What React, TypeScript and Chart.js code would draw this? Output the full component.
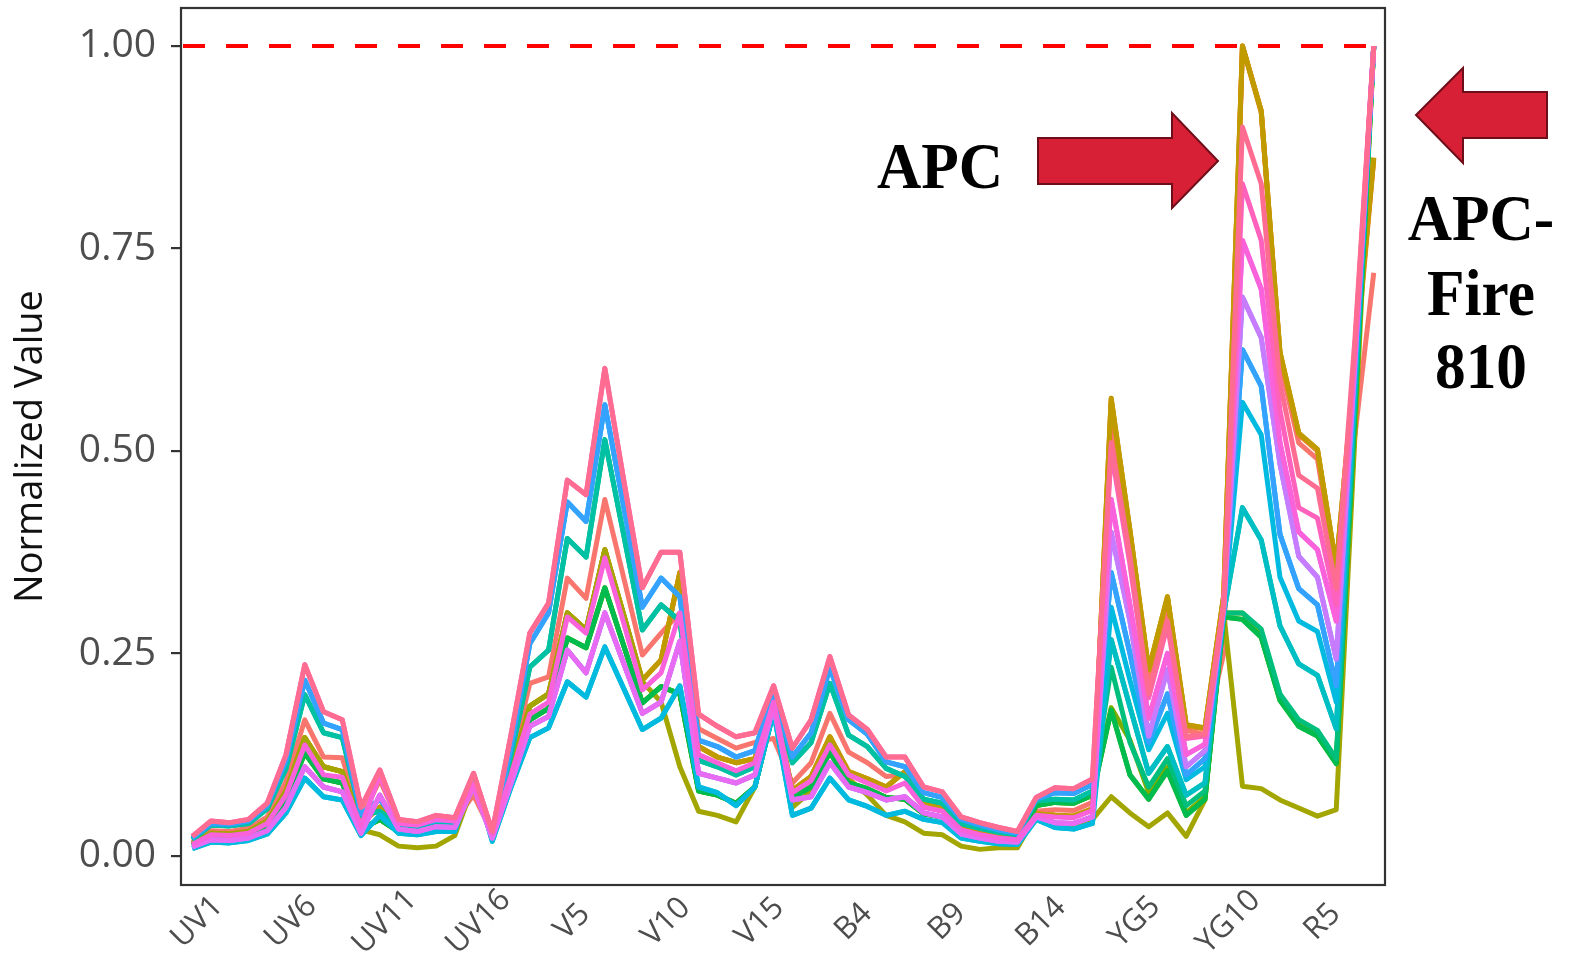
import React, { useEffect, useRef } from "react";
import { Chart, registerables } from "chart.js";

Chart.register(...registerables);

// ---------------- data ----------------
const CHANNELS = [
  "UV1", "UV2", "UV3", "UV4", "UV5", "UV6", "UV7", "UV8", "UV9", "UV10", "UV11", "UV12", "UV13", "UV14", "UV15", "UV16",
  "V1", "V2", "V3", "V4", "V5", "V6", "V7", "V8", "V9", "V10", "V11", "V12", "V13", "V14", "V15", "V16",
  "B1", "B2", "B3", "B4", "B5", "B6", "B7", "B8", "B9", "B10", "B11", "B12", "B13", "B14",
  "YG1", "YG2", "YG3", "YG4", "YG5", "YG6", "YG7", "YG8", "YG9", "YG10",
  "R1", "R2", "R3", "R4", "R5", "R6", "R7", "R8",
];

const X_TICK_LABELS = ["UV1", "UV6", "UV11", "UV16", "V5", "V10", "V15", "B4", "B9", "B14", "YG5", "YG10", "R5"];
const Y_TICKS = [0, 0.25, 0.5, 0.75, 1.0];
const Y_MIN = -0.036;
const Y_MAX = 1.047;
const REF_LINE = 1.0;

// UV1..YG3 (49 channels) – spectral shapes of the emission levels
const L1 = [0.024, 0.043, 0.041, 0.045, 0.065, 0.125, 0.236, 0.178, 0.168, 0.060, 0.106, 0.045, 0.042, 0.050, 0.047, 0.102,
  0.030, 0.150, 0.275, 0.312, 0.464, 0.446, 0.602, 0.465, 0.331, 0.375, 0.375, 0.175, 0.160, 0.147, 0.152, 0.210,
  0.133, 0.168, 0.246, 0.174, 0.156, 0.122, 0.122, 0.085, 0.079, 0.048, 0.041, 0.035, 0.030, 0.072,
  0.084, 0.083, 0.095];
const L2 = [0.022, 0.040, 0.039, 0.043, 0.062, 0.118, 0.217, 0.164, 0.156, 0.052, 0.070, 0.040, 0.038, 0.044, 0.043, 0.100,
  0.027, 0.135, 0.262, 0.300, 0.437, 0.413, 0.557, 0.432, 0.307, 0.343, 0.320, 0.143, 0.135, 0.122, 0.130, 0.205,
  0.122, 0.152, 0.232, 0.168, 0.150, 0.116, 0.110, 0.078, 0.072, 0.045, 0.038, 0.032, 0.028, 0.070,
  0.078, 0.077, 0.088];
const L3 = [0.020, 0.038, 0.037, 0.040, 0.058, 0.108, 0.199, 0.152, 0.146, 0.050, 0.055, 0.037, 0.035, 0.040, 0.040, 0.096,
  0.026, 0.125, 0.233, 0.254, 0.392, 0.369, 0.514, 0.397, 0.279, 0.310, 0.290, 0.118, 0.110, 0.100, 0.110, 0.198,
  0.115, 0.140, 0.213, 0.149, 0.135, 0.108, 0.098, 0.070, 0.065, 0.040, 0.034, 0.029, 0.026, 0.068,
  0.070, 0.069, 0.080];
const L4 = [0.017, 0.031, 0.030, 0.034, 0.048, 0.092, 0.168, 0.122, 0.121, 0.045, 0.094, 0.042, 0.040, 0.046, 0.044, 0.075,
  0.028, 0.115, 0.213, 0.221, 0.343, 0.318, 0.440, 0.344, 0.248, 0.275, 0.300, 0.157, 0.145, 0.133, 0.140, 0.145,
  0.090, 0.115, 0.176, 0.128, 0.115, 0.098, 0.100, 0.065, 0.060, 0.036, 0.030, 0.026, 0.023, 0.055,
  0.057, 0.056, 0.066];
const L5 = [0.015, 0.028, 0.027, 0.030, 0.043, 0.080, 0.146, 0.110, 0.104, 0.040, 0.060, 0.035, 0.032, 0.038, 0.037, 0.090,
  0.026, 0.105, 0.185, 0.200, 0.300, 0.279, 0.378, 0.298, 0.217, 0.242, 0.350, 0.135, 0.122, 0.115, 0.120, 0.188,
  0.081, 0.098, 0.147, 0.104, 0.095, 0.085, 0.104, 0.068, 0.057, 0.033, 0.027, 0.023, 0.021, 0.052,
  0.050, 0.049, 0.058];
const L6 = [0.014, 0.026, 0.025, 0.028, 0.040, 0.075, 0.137, 0.100, 0.097, 0.036, 0.100, 0.040, 0.038, 0.045, 0.043, 0.088,
  0.027, 0.100, 0.175, 0.190, 0.295, 0.275, 0.368, 0.288, 0.205, 0.226, 0.300, 0.125, 0.115, 0.105, 0.115, 0.190,
  0.078, 0.093, 0.137, 0.100, 0.090, 0.080, 0.090, 0.060, 0.055, 0.032, 0.026, 0.022, 0.020, 0.050,
  0.048, 0.047, 0.056];
const L7 = [0.013, 0.024, 0.023, 0.026, 0.037, 0.070, 0.127, 0.095, 0.090, 0.033, 0.045, 0.030, 0.028, 0.033, 0.033, 0.092,
  0.022, 0.095, 0.168, 0.182, 0.269, 0.257, 0.331, 0.260, 0.189, 0.209, 0.200, 0.080, 0.075, 0.065, 0.085, 0.180,
  0.072, 0.085, 0.128, 0.090, 0.083, 0.072, 0.070, 0.052, 0.048, 0.028, 0.023, 0.019, 0.018, 0.062,
  0.066, 0.065, 0.075];
const L8 = [0.011, 0.020, 0.019, 0.022, 0.031, 0.060, 0.110, 0.085, 0.079, 0.028, 0.075, 0.033, 0.030, 0.036, 0.035, 0.086,
  0.022, 0.090, 0.160, 0.172, 0.254, 0.226, 0.300, 0.238, 0.176, 0.190, 0.265, 0.102, 0.096, 0.090, 0.100, 0.185,
  0.069, 0.073, 0.115, 0.085, 0.078, 0.069, 0.073, 0.053, 0.048, 0.027, 0.022, 0.018, 0.017, 0.048,
  0.041, 0.040, 0.048];
const L9 = [0.009, 0.017, 0.016, 0.019, 0.027, 0.053, 0.096, 0.073, 0.069, 0.025, 0.050, 0.028, 0.026, 0.030, 0.030, 0.098,
  0.018, 0.085, 0.146, 0.158, 0.215, 0.196, 0.258, 0.207, 0.156, 0.170, 0.210, 0.085, 0.078, 0.062, 0.085, 0.178,
  0.050, 0.059, 0.096, 0.069, 0.061, 0.050, 0.055, 0.045, 0.041, 0.022, 0.018, 0.015, 0.014, 0.045,
  0.035, 0.033, 0.040];
const OLIVE_HEAD = [0.015, 0.028, 0.027, 0.030, 0.043, 0.080, 0.146, 0.110, 0.104, 0.032, 0.026, 0.012, 0.010, 0.012, 0.025, 0.088,
  0.026, 0.105, 0.185, 0.200, 0.300, 0.279, 0.378, 0.298, 0.215, 0.190, 0.110, 0.055, 0.050, 0.042, 0.085, 0.180,
  0.060, 0.080, 0.140, 0.095, 0.075, 0.050, 0.042, 0.028, 0.026, 0.012, 0.008, 0.010, 0.010, 0.050,
  0.038, 0.036, 0.045];

// YG4..YG10, R1..R8 (15 channels)
const T_SALMON = [0.530, 0.370, 0.210, 0.300, 0.155, 0.150, 0.250, 1.000, 0.920, 0.610, 0.510, 0.490, 0.350, 0.520, 0.720];
const T_ORANGE = [0.560, 0.400, 0.228, 0.318, 0.160, 0.157, 0.320, 1.000, 0.918, 0.620, 0.520, 0.500, 0.357, 0.600, 0.860];
const T_GOLD = [0.565, 0.402, 0.230, 0.320, 0.162, 0.158, 0.322, 1.000, 0.920, 0.622, 0.522, 0.502, 0.357, 0.610, 0.862];
const T_OLIVE = [0.073, 0.053, 0.036, 0.053, 0.024, 0.069, 0.300, 0.086, 0.083, 0.069, 0.059, 0.049, 0.057, 0.520, 1.000];
const T_GREEN_A = [0.183, 0.143, 0.078, 0.110, 0.053, 0.073, 0.300, 0.300, 0.276, 0.198, 0.165, 0.152, 0.118, 0.560, 1.000];
const T_GREEN_B = [0.180, 0.100, 0.070, 0.105, 0.050, 0.070, 0.295, 0.292, 0.270, 0.192, 0.160, 0.148, 0.114, 0.550, 1.000];
const T_GREEN_C = [0.233, 0.140, 0.085, 0.120, 0.062, 0.080, 0.300, 0.300, 0.280, 0.200, 0.168, 0.155, 0.120, 0.560, 1.000];
const T_TEAL = [0.267, 0.184, 0.102, 0.135, 0.075, 0.090, 0.300, 0.430, 0.390, 0.284, 0.237, 0.223, 0.157, 0.580, 1.000];
const T_LBLUE = [0.307, 0.217, 0.131, 0.176, 0.094, 0.110, 0.300, 0.560, 0.520, 0.344, 0.290, 0.277, 0.190, 0.590, 1.000];
const T_BLUE = [0.350, 0.250, 0.140, 0.200, 0.100, 0.120, 0.305, 0.625, 0.580, 0.397, 0.330, 0.310, 0.210, 0.600, 1.000];
const T_PURPLE = [0.400, 0.290, 0.148, 0.230, 0.110, 0.130, 0.305, 0.690, 0.640, 0.484, 0.370, 0.344, 0.243, 0.610, 1.000];
const T_VIOLET = [0.440, 0.310, 0.170, 0.250, 0.125, 0.138, 0.310, 0.760, 0.700, 0.510, 0.400, 0.378, 0.290, 0.620, 1.000];
const T_PINK = [0.500, 0.360, 0.195, 0.285, 0.145, 0.148, 0.310, 0.830, 0.760, 0.550, 0.430, 0.417, 0.310, 0.630, 1.000];
const T_ROSE = [0.510, 0.370, 0.200, 0.290, 0.147, 0.150, 0.310, 0.900, 0.830, 0.585, 0.470, 0.454, 0.330, 0.640, 1.000];

const SERIES_NAMES = ["S1", "S2", "S3", "S4", "S5", "S6", "S7", "S8", "S9", "S10",
  "S11", "S12", "S13", "S14", "S15", "S16", "S17", "S18", "S19", "S20"];
const SERIES_COLORS = ["#F8766D", "#EA8331", "#D89000", "#C09B00", "#A3A500", "#7CAE00", "#39B600", "#00BB4E", "#00BF7D", "#00C1A3",
  "#00BFC4", "#00BAE0", "#00B0F6", "#35A2FF", "#9590FF", "#C77CFF", "#E76BF3", "#FA62DB", "#FF62BC", "#FF6C91"];
const SERIES_HEADS = [L4, L5, L5, L5, OLIVE_HEAD, L7, L7, L7, L3, L3, L9, L9, L2, L2, L8, L8, L8, L6, L1, L1];
const SERIES_TAILS = [T_SALMON, T_ORANGE, T_GOLD, T_GOLD, T_OLIVE, T_GREEN_A, T_GREEN_B, T_GREEN_B, T_GREEN_C, T_TEAL,
  T_TEAL, T_LBLUE, T_BLUE, T_BLUE, T_PURPLE, T_PURPLE, T_VIOLET, T_VIOLET, T_PINK, T_ROSE];

// ---------------- plugins ----------------
const refLinePlugin = {
  id: "refLine",
  beforeDatasetsDraw(chart: any) {
    const { ctx, chartArea, scales } = chart;
    const y = scales.y.getPixelForValue(REF_LINE);
    ctx.save();
    ctx.strokeStyle = "#FF0000";
    ctx.lineWidth = 4;
    ctx.setLineDash([22, 21]);
    ctx.beginPath();
    ctx.moveTo(chartArea.left + 2, y);
    ctx.lineTo(chartArea.right, y);
    ctx.stroke();
    ctx.restore();
  },
};

const panelPlugin = {
  id: "panel",
  afterDatasetsDraw(chart: any) {
    const { ctx, chartArea } = chart;
    ctx.save();
    ctx.strokeStyle = "#333333";
    ctx.lineWidth = 2.2;
    ctx.strokeRect(chartArea.left, chartArea.top, chartArea.right - chartArea.left, chartArea.bottom - chartArea.top);
    ctx.restore();
  },
};

const xLabelPlugin = {
  id: "xLabels",
  afterDraw(chart: any) {
    const { ctx, chartArea, scales } = chart;
    ctx.save();
    ctx.fillStyle = "#4D4D4D";
    ctx.font = '31px "Open Sans"';
    ctx.textAlign = "center";
    ctx.textBaseline = "middle";
    X_TICK_LABELS.forEach((lab) => {
      const idx = CHANNELS.indexOf(lab);
      const px = scales.x.getPixelForValue(idx);
      ctx.save();
      ctx.translate(px + 5, chartArea.bottom + 37);
      ctx.rotate(-Math.PI / 4);
      ctx.fillText(lab, 0, 0);
      ctx.restore();
    });
    ctx.restore();
  },
};

function arrow(ctx: CanvasRenderingContext2D, pts: number[][]) {
  ctx.beginPath();
  pts.forEach((p, i) => (i === 0 ? ctx.moveTo(p[0], p[1]) : ctx.lineTo(p[0], p[1])));
  ctx.closePath();
  ctx.fillStyle = "#D71F35";
  ctx.fill();
  ctx.lineWidth = 2;
  ctx.strokeStyle = "#6E0E1A";
  ctx.stroke();
}

function serifText(ctx: CanvasRenderingContext2D, text: string, cx: number, baseline: number) {
  ctx.save();
  ctx.translate(cx, baseline);
  ctx.scale(0.93, 1);
  ctx.font = 'bold 66px "Liberation Serif", "Times New Roman", serif';
  ctx.fillStyle = "#000000";
  ctx.textAlign = "center";
  ctx.textBaseline = "alphabetic";
  ctx.fillText(text, 0, 0);
  ctx.restore();
}

const annotationPlugin = {
  id: "annotations",
  afterDraw(chart: any) {
    const { ctx } = chart;
    ctx.save();
    // right-pointing arrow (APC)
    arrow(ctx, [[1038, 138], [1172, 138], [1172, 113], [1218, 161], [1172, 208], [1172, 184], [1038, 184]]);
    // left-pointing arrow (APC-Fire 810)
    arrow(ctx, [[1547, 92], [1463, 92], [1463, 68], [1416, 115], [1463, 163], [1463, 138], [1547, 138]]);
    serifText(ctx, "APC", 940, 188);
    serifText(ctx, "APC-", 1481, 240);
    serifText(ctx, "Fire", 1481, 315);
    serifText(ctx, "810", 1481, 388);
    ctx.restore();
  },
};

// ---------------- component ----------------
export default function App() {
  const canvasRef = useRef<HTMLCanvasElement | null>(null);

  useEffect(() => {
    if (!canvasRef.current) return;
    const n = SERIES_NAMES.length;
    const datasets = SERIES_NAMES.map((name, i) => {
      const values = [...SERIES_HEADS[i], ...SERIES_TAILS[i]];
      return {
        label: name,
        data: values.map((v, j) => ({ x: j, y: v })),
        borderColor: SERIES_COLORS[i],
        backgroundColor: SERIES_COLORS[i],
        borderWidth: 5,
        pointRadius: 0,
        pointHoverRadius: 0,
        tension: 0,
        fill: false,
        borderJoinStyle: "round" as const,
        borderCapStyle: "butt" as const,
        order: n - i,
      };
    });

    const chart = new Chart(canvasRef.current, {
      type: "line",
      data: { datasets },
      options: {
        responsive: false,
        animation: false,
        layout: { padding: { left: 0, top: 8, right: 188, bottom: 0 } },
        plugins: { legend: { display: false }, tooltip: { enabled: false } },
        scales: {
          x: {
            type: "linear",
            min: -0.6,
            max: CHANNELS.length - 1 + 0.6,
            ticks: { display: false },
            grid: { display: false },
            border: { display: false },
            afterFit: (s: any) => {
              s.height = 69;
            },
          },
          y: {
            type: "linear",
            min: Y_MIN,
            max: Y_MAX,
            afterBuildTicks: (s: any) => {
              s.ticks = Y_TICKS.map((v) => ({ value: v }));
            },
            ticks: {
              callback: (v: any) => Number(v).toFixed(2),
              color: "#4D4D4D",
              font: { family: '"Open Sans"', size: 39 },
              padding: 15,
            },
            grid: {
              display: true,
              drawOnChartArea: false,
              drawTicks: true,
              tickLength: 10,
              color: "#333333",
              lineWidth: 2.2,
            },
            border: { display: false },
            title: {
              display: true,
              text: "Normalized Value",
              color: "#111111",
              font: { family: '"Open Sans"', size: 38 },
              padding: { top: 8, bottom: 0 },
            },
            afterFit: (s: any) => {
              s.width = 181;
              s.paddingTop = 0;
              s.paddingBottom = 0;
            },
          },
        },
      } as any,
      plugins: [refLinePlugin, panelPlugin, xLabelPlugin, annotationPlugin],
    });
    return () => chart.destroy();
  }, []);

  return (
    <div style={{ position: "absolute", left: 0, top: 0, width: 1573, height: 954, background: "#ffffff" }}>
      <canvas ref={canvasRef} width={1573} height={954} style={{ display: "block", width: 1573, height: 954 }} />
    </div>
  );
}
